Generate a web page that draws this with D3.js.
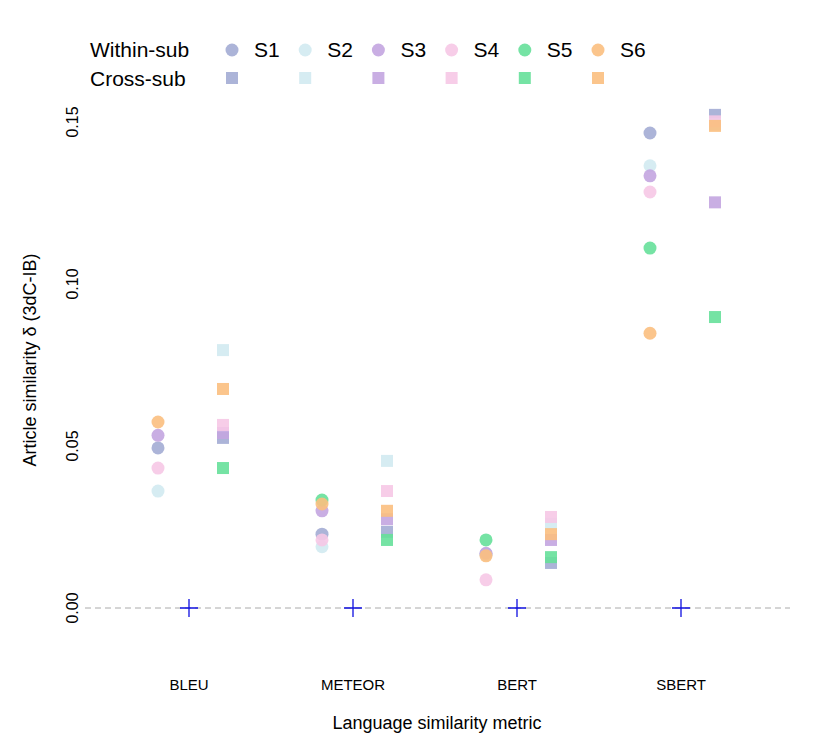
<!DOCTYPE html><html><head><meta charset="utf-8"><script src="https://cdn.jsdelivr.net/npm/d3@7"></script>
<style>body{margin:0;background:#fff}text{font-family:"Liberation Sans",Arial,sans-serif}</style></head><body><svg id="c" width="831" height="756"></svg><script>
const metrics=["BLEU","METEOR","BERT","SBERT"];
const subjects=["S1","S2","S3","S4","S5","S6"];
const colors=["#a3acd4","#d2eaf1","#c3a5e0","#f6c8e6","#66e09a","#fbbf80"];
const within={S1:[0.0494,0.0228,0.0167,0.1466],S2:[0.0361,0.0189,0.0164,0.1365],S3:[0.0533,0.0300,0.0169,0.1334],S4:[0.0432,0.0210,0.0087,0.1284],S5:[null,0.0333,0.0210,0.1111],S6:[0.0574,0.0321,0.0161,0.0848]};
const cross={S1:[0.0525,0.0235,0.0139,0.1522],S2:[0.0796,0.0454,0.0260,0.1493],S3:[0.0540,0.0274,0.0210,0.1252],S4:[0.0565,0.0361,0.0281,0.1502],S5:[0.0432,0.0210,0.0157,0.0898],S6:[0.0676,0.0300,0.0228,0.1488]};
const yTicks=[0,0.05,0.10,0.15];
const svg=d3.select("#c");
const x=d3.scalePoint().domain(metrics).range([189,681]);
const y=d3.scaleLinear().domain([0,0.15]).range([608,122]);
svg.append("line").attr("x1",85).attr("x2",790).attr("y1",y(0)).attr("y2",y(0)).attr("stroke","#aaa").attr("stroke-dasharray","6,4");
yTicks.forEach(t=>svg.append("text").attr("transform",`translate(78,${y(t)}) rotate(-90)`).attr("text-anchor","middle").attr("font-size",16).text(t.toFixed(2)));
metrics.forEach(m=>svg.append("text").attr("x",x(m)).attr("y",690).attr("text-anchor","middle").attr("font-size",15).text(m));
svg.append("text").attr("x",437).attr("y",729).attr("text-anchor","middle").attr("font-size",18).text("Language similarity metric");
svg.append("text").attr("transform","translate(36,360) rotate(-90)").attr("text-anchor","middle").attr("font-size",18).text("Article similarity δ (3dC-IB)");
subjects.forEach((s,i)=>{
 metrics.forEach((m,j)=>{
  const v=within[s][j]; if(v!=null) svg.append("circle").attr("cx",x(m)-31).attr("cy",y(v)).attr("r",6.5).attr("fill",colors[i]).attr("opacity",0.9);
  const w=cross[s][j]; svg.append("rect").attr("x",x(m)+34-6).attr("y",y(w)-6).attr("width",12).attr("height",12).attr("fill",colors[i]).attr("opacity",0.9);
 });
});
metrics.forEach(m=>{const cx=x(m),cy=y(0);svg.append("path").attr("d",`M${cx-9},${cy}H${cx+9}M${cx},${cy-9}V${cy+9}`).attr("stroke","#1010e0").attr("stroke-width",1.3);});
svg.append("text").attr("x",90).attr("y",57).attr("font-size",21).text("Within-sub");
svg.append("text").attr("x",90).attr("y",86).attr("font-size",21).text("Cross-sub");
subjects.forEach((s,i)=>{const lx=232+i*73.2;
 svg.append("circle").attr("cx",lx).attr("cy",50).attr("r",6.5).attr("fill",colors[i]).attr("opacity",0.9);
 svg.append("rect").attr("x",lx-6).attr("y",72).attr("width",12).attr("height",12).attr("fill",colors[i]).attr("opacity",0.9);
 svg.append("text").attr("x",lx+22).attr("y",57).attr("font-size",21).text(s);
});
</script></body></html>
